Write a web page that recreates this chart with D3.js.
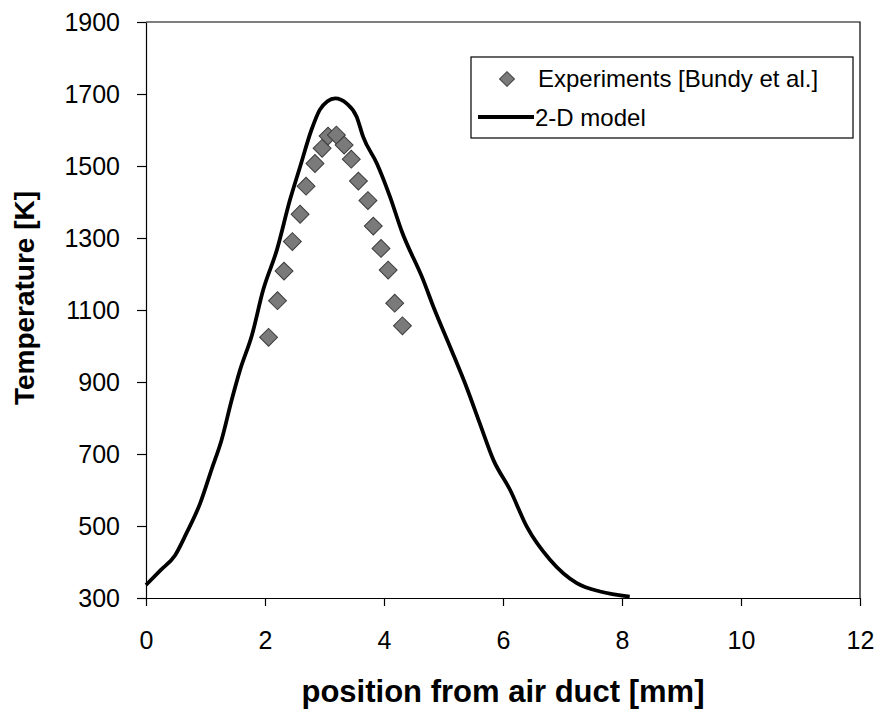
<!DOCTYPE html>
<html>
<head>
<meta charset="utf-8">
<script src="https://cdn.jsdelivr.net/npm/d3@7"></script>
<style>
  body { margin: 0; background: #fff; }
  svg { display: block; font-family: "Liberation Sans", Arial, sans-serif; }
</style>
</head>
<body>
<svg id="chart" width="881" height="712"></svg>
<script>
// ---- data ----
const xTicks = [0, 2, 4, 6, 8, 10, 12];
const yTicks = [300, 500, 700, 900, 1100, 1300, 1500, 1700, 1900];

const expX = [2.06, 2.21, 2.32, 2.46, 2.59, 2.69, 2.84, 2.96, 3.06, 3.20, 3.33, 3.45, 3.57, 3.73, 3.82, 3.95, 4.07, 4.18, 4.31];
const expT = [1024, 1126, 1208, 1290, 1366, 1444, 1507, 1549, 1583, 1586, 1558, 1519, 1458, 1404, 1333, 1271, 1211, 1119, 1056];

const modelX = [0, 0.25, 0.49, 0.68, 0.91, 1.10, 1.27, 1.44, 1.58, 1.78, 1.97, 2.20, 2.42, 2.59, 2.78, 2.92, 3.05, 3.18, 3.37, 3.54, 3.65, 3.88, 4.10, 4.30, 4.66, 4.83, 5.11, 5.40, 5.61, 5.84, 6.12, 6.40, 6.79, 7.24, 7.63, 8.13];
const modelT = [336, 378, 419, 480, 563, 656, 739, 850, 933, 1030, 1156, 1267, 1406, 1498, 1600, 1656, 1680, 1688, 1674, 1637, 1581, 1507, 1415, 1318, 1183, 1109, 998, 880, 785, 683, 600, 498, 406, 341, 318, 304];

const seriesNames = ["Experiments [Bundy et al.]", "2-D model"];
const xTitle = "position from air duct [mm]";
const yTitle = "Temperature [K]";

// ---- layout ----
const svg = d3.select("#chart");
const L = 146, R = 860, T = 22, B = 598;
const x = d3.scaleLinear().domain([0, 12]).range([L, R]);
const y = d3.scaleLinear().domain([300, 1900]).range([B, T]);

// frame (top and right)
svg.append("path")
  .attr("d", `M${L},${T}H${R}V${B}`)
  .attr("fill", "none").attr("stroke", "#000").attr("stroke-width", 1.2);

// axes
const xAxis = svg.append("g").attr("transform", `translate(0,${B})`)
  .call(d3.axisBottom(x).tickValues(xTicks).tickSize(8).tickPadding(25).tickSizeOuter(0).tickFormat(d3.format("d")));
const yAxis = svg.append("g").attr("transform", `translate(${L},0)`)
  .call(d3.axisLeft(y).tickValues(yTicks).tickSize(9).tickPadding(17).tickSizeOuter(0).tickFormat(d3.format("d")));
[xAxis, yAxis].forEach(a => {
  a.selectAll("path, line").attr("stroke", "#000").attr("stroke-width", 1.2);
  a.selectAll("text").attr("fill", "#000").style("font-size", "25px")
    .style("font-family", "'Liberation Sans', Arial, sans-serif");
});
xAxis.selectAll("text").attr("dy", "0.71em");

// axis titles
svg.append("text")
  .attr("x", (L + R) / 2).attr("y", 702)
  .attr("text-anchor", "middle")
  .style("font-size", "31px").style("font-weight", "bold")
  .text(xTitle);
svg.append("text")
  .attr("transform", `translate(34,${(T + B) / 2 - 12}) rotate(-90)`)
  .attr("text-anchor", "middle")
  .style("font-size", "28px").style("font-weight", "bold")
  .text(yTitle);

// model line
const line = d3.line().x((d, i) => x(modelX[i])).y((d, i) => y(modelT[i])).curve(d3.curveMonotoneX);
svg.append("path")
  .datum(modelX)
  .attr("d", line)
  .attr("fill", "none").attr("stroke", "#000").attr("stroke-width", 3.8)
  .attr("stroke-linejoin", "round");

// experiment diamonds
const diamond = d3.symbol().type(d3.symbolSquare).size(160);
svg.append("g").selectAll("path")
  .data(expX)
  .join("path")
  .attr("transform", (d, i) => `translate(${x(d)},${y(expT[i])}) rotate(45)`)
  .attr("d", diamond)
  .attr("fill", "#7a7a7a").attr("stroke", "#3c3c3c").attr("stroke-width", 1);

// legend
const lg = svg.append("g");
lg.append("rect").attr("x", 471).attr("y", 57).attr("width", 382).attr("height", 81)
  .attr("fill", "#fff").attr("stroke", "#000").attr("stroke-width", 1.2);
lg.append("path").attr("d", d3.symbol().type(d3.symbolSquare).size(110))
  .attr("transform", "translate(507,79) rotate(45)")
  .attr("fill", "#7a7a7a").attr("stroke", "#3c3c3c").attr("stroke-width", 1);
lg.append("line").attr("x1", 478).attr("x2", 534).attr("y1", 117).attr("y2", 117)
  .attr("stroke", "#000").attr("stroke-width", 3.8);
lg.append("text").attr("x", 538).attr("y", 87).style("font-size", "24px").text(seriesNames[0]);
lg.append("text").attr("x", 535).attr("y", 126).style("font-size", "24px").text(seriesNames[1]);
</script>
</body>
</html>
